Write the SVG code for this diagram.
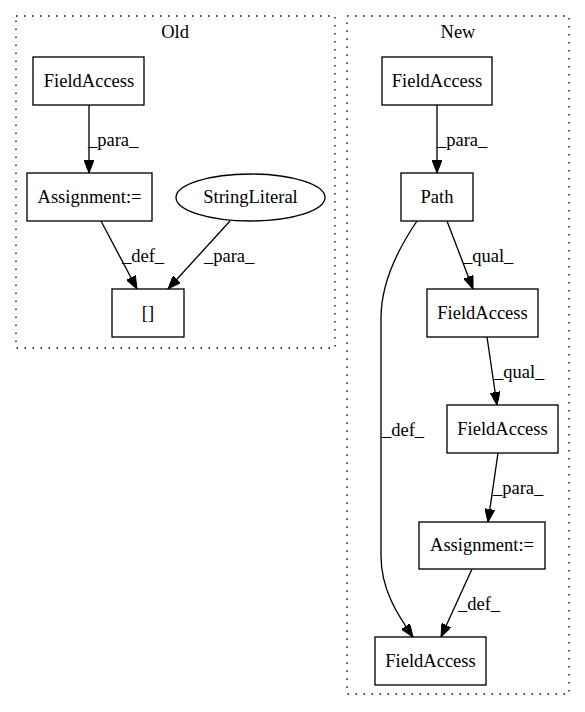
<svg xmlns="http://www.w3.org/2000/svg" width="585" height="712" viewBox="0 0 585 712">
<defs>
<marker id="arr" markerUnits="userSpaceOnUse" viewBox="0 0 13 10" refX="13" refY="5" markerWidth="13" markerHeight="10" orient="auto">
<path d="M0,0 L13,5 L0,10 z" fill="#000" stroke="#000" stroke-width="1"/>
</marker>
<style>
text{font-family:"Liberation Serif","Times New Roman",serif;font-size:18.5px;fill:#000}
.n{text-anchor:middle}
.box{fill:#fff;stroke:#000;stroke-width:1.33}
.cl{fill:none;stroke:#000;stroke-width:1.33;stroke-dasharray:1.5,6.5}
.e{fill:none;stroke:#000;stroke-width:1.33;marker-end:url(#arr)}
</style>
</defs>
<rect width="585" height="712" fill="#fff"/>
<g id="cluster_old">
<rect class="cl" x="16" y="16" width="319" height="332"/>
<text class="n" x="175" y="38">Old</text>
</g>
<g id="cluster_new">
<rect class="cl" x="347" y="16" width="222" height="678"/>
<text class="n" x="458" y="38">New</text>
</g>
<g id="edges">
<path class="e" d="M89,105 L89,173"/>
<text x="88" y="146">_para_</text>
<path class="e" d="M101,221 L137,289"/>
<text x="122" y="262">_def_</text>
<path class="e" d="M230,221 L168,289"/>
<text x="204" y="262">_para_</text>
<path class="e" d="M437,105 L437,173"/>
<text x="437" y="146">_para_</text>
<path class="e" d="M447,221 L473,289"/>
<text x="463" y="262">_qual_</text>
<path class="e" d="M487,337 L497,405"/>
<text x="494" y="378">_qual_</text>
<path class="e" d="M498,453 L488,522"/>
<text x="493" y="494">_para_</text>
<path class="e" d="M472,569 L441,637"/>
<text x="458" y="610">_def_</text>
<path class="e" d="M417,221 C400,246 381,281 381,318 L381,556 C381,589 397,614 413,637"/>
<text x="382" y="436">_def_</text>
</g>
<g id="old_fieldaccess">
<rect class="box" x="33" y="57" width="111" height="48"/>
<text class="n" x="89" y="87">FieldAccess</text>
</g>
<g id="old_assignment">
<rect class="box" x="27" y="173" width="125" height="48"/>
<text class="n" x="89.5" y="203">Assignment:=</text>
</g>
<g id="old_stringliteral">
<ellipse class="box" cx="250.5" cy="197.5" rx="74.5" ry="23.5"/>
<text class="n" x="250.5" y="203">StringLiteral</text>
</g>
<g id="old_index">
<rect class="box" x="112" y="289" width="72" height="48"/>
<text class="n" x="148" y="319">[]</text>
</g>
<g id="new_fieldaccess1">
<rect class="box" x="382" y="57" width="110" height="48"/>
<text class="n" x="437" y="87">FieldAccess</text>
</g>
<g id="new_path">
<rect class="box" x="401" y="173" width="72" height="48"/>
<text class="n" x="437" y="203">Path</text>
</g>
<g id="new_fieldaccess2">
<rect class="box" x="427" y="289" width="111" height="48"/>
<text class="n" x="482.5" y="319">FieldAccess</text>
</g>
<g id="new_fieldaccess3">
<rect class="box" x="447" y="405" width="111" height="48"/>
<text class="n" x="502.5" y="435">FieldAccess</text>
</g>
<g id="new_assignment">
<rect class="box" x="419" y="522" width="126" height="47"/>
<text class="n" x="482" y="551">Assignment:=</text>
</g>
<g id="new_fieldaccess4">
<rect class="box" x="375" y="637" width="111" height="48"/>
<text class="n" x="430.5" y="667">FieldAccess</text>
</g>
</svg>
